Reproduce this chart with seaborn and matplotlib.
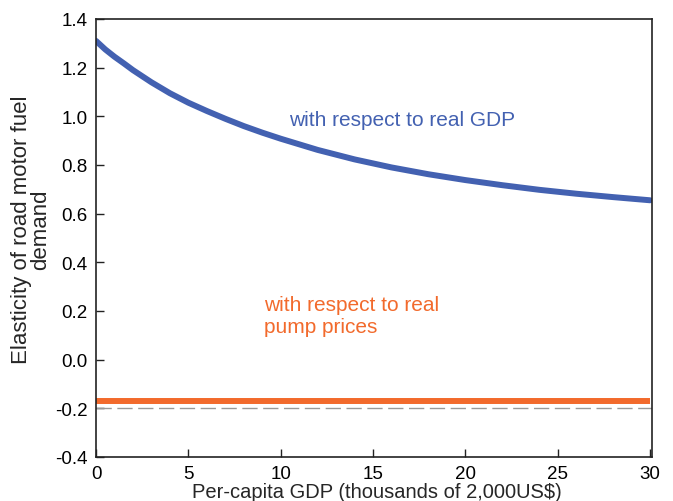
import seaborn as sns
import matplotlib.pyplot as plt
import pandas as pd

gdp = [0, 0.5, 1, 1.5, 2, 3, 4, 5, 6, 7, 8, 9, 10, 12, 14, 16, 18, 20, 22, 24, 26, 28, 30]
elas_gdp = [1.31, 1.275, 1.245, 1.218, 1.19, 1.14, 1.095, 1.056, 1.022, 0.99, 0.96, 0.933,
            0.908, 0.862, 0.823, 0.79, 0.762, 0.738, 0.717, 0.698, 0.682, 0.668, 0.655]
elas_price = [-0.168] * len(gdp)
ref_level = -0.2
yticks = [-0.4, -0.2, 0.0, 0.2, 0.4, 0.6, 0.8, 1.0, 1.2, 1.4]

BLUE = "#4361B1"
ORANGE = "#F26A2C"

sns.set_style("ticks")
plt.rcParams['font.family'] = ['Liberation Sans', 'DejaVu Sans']
plt.rcParams['xtick.direction'] = 'in'
plt.rcParams['ytick.direction'] = 'in'

df = pd.DataFrame({"gdp": gdp, "gdp_el": elas_gdp, "price_el": elas_price})

fig = plt.figure(figsize=(6.73, 5.02), dpi=100)
ax = fig.add_axes([96 / 673, 44 / 502, 556 / 673, 438 / 502])

ax.axhline(ref_level, color="#999999", lw=1, ls=(0, (11, 4)), zorder=1)
sns.lineplot(data=df, x="gdp", y="gdp_el", color=BLUE, lw=4.3, ax=ax,
             solid_capstyle="round")
sns.lineplot(data=df, x="gdp", y="price_el", color=ORANGE, lw=4.3, ax=ax,
             solid_capstyle="butt")

ax.text(10.43, 0.985, "with respect to real GDP", color=BLUE, fontsize=15, va="center")
ax.text(9.08, 0.183, "with respect to real\npump prices", color=ORANGE, fontsize=15,
        va="center", linespacing=1.2)

ax.set_xlim(0, 30.1)
ax.set_ylim(-0.4, 1.4)
ax.set_xticks(range(0, 31, 5))
ax.set_yticks(yticks)
ax.set_yticklabels([f"{v:.1f}" for v in yticks])
ax.tick_params(labelsize=13.5, length=6, width=1, top=False, right=False,
               colors="#222222", labelcolor="black")
ax.tick_params(axis="y", pad=6)
ax.tick_params(axis="x", pad=6)
for s in ax.spines.values():
    s.set_linewidth(1.2)
    s.set_color("#222222")
    s.set_visible(True)

ax.set_xlabel("Per-capita GDP (thousands of 2,000US$)", fontsize=14.5)
ax.xaxis.set_label_coords(0.506, -0.057)
ax.set_ylabel("Elasticity of road motor fuel\ndemand", fontsize=16, linespacing=0.88)
ax.yaxis.set_label_coords(-0.081, 0.52)

fig.savefig("out.png", dpi=100)
